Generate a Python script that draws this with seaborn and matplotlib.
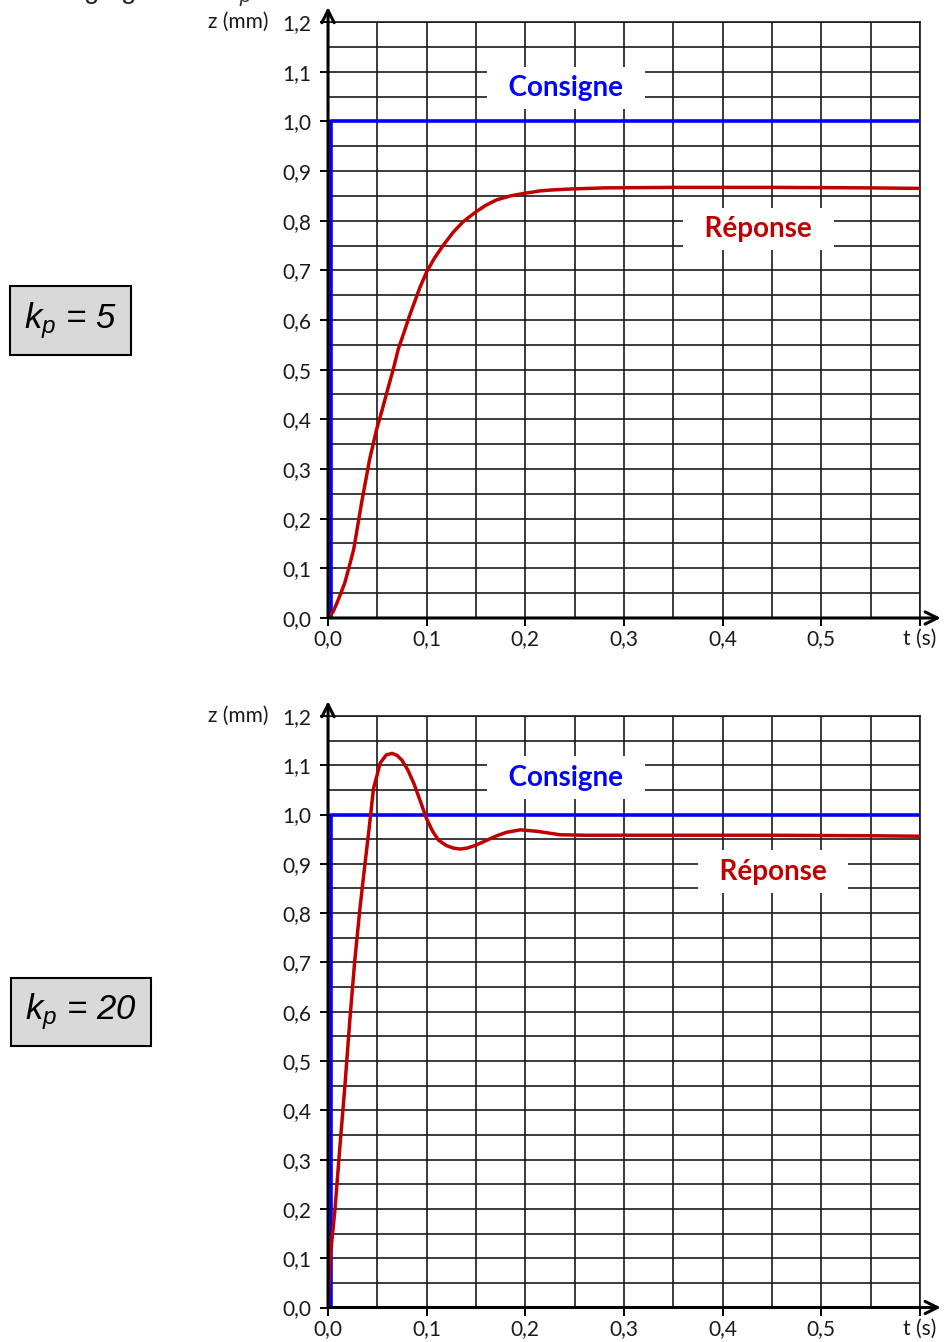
import numpy as np
import pandas as pd
import seaborn as sns
import matplotlib.pyplot as plt
import matplotlib.transforms as mtransforms

# consigne (échelon)
t_step = [0.0025, 0.0025, 0.6]
z_step = [0.0, 1.0, 1.0]

# réponse pour kp = 5
t_kp5 = [0, 0.005, 0.009, 0.013, 0.017, 0.021, 0.026, 0.030, 0.034, 0.038,
         0.042, 0.049, 0.055, 0.060, 0.066, 0.071, 0.077, 0.082, 0.088, 0.093,
         0.100, 0.108, 0.117, 0.127, 0.137, 0.150, 0.160, 0.171, 0.185, 0.199,
         0.215, 0.228, 0.249, 0.28, 0.35, 0.45, 0.55, 0.6]
z_kp5 = [0, 0.012, 0.030, 0.050, 0.071, 0.100, 0.138, 0.185, 0.232, 0.275,
         0.318, 0.378, 0.420, 0.457, 0.500, 0.540, 0.575, 0.605, 0.638, 0.665,
         0.697, 0.725, 0.751, 0.777, 0.798, 0.818, 0.831, 0.842, 0.850, 0.855,
         0.860, 0.862, 0.864, 0.866, 0.867, 0.867, 0.866, 0.865]

# réponse pour kp = 20
t_kp20 = [0, 0.002, 0.007, 0.012, 0.017, 0.022, 0.027, 0.032, 0.036, 0.042,
          0.046, 0.053, 0.059, 0.065, 0.070, 0.075, 0.081, 0.087, 0.093, 0.100,
          0.106, 0.112, 0.120, 0.127, 0.134, 0.141, 0.150, 0.161, 0.171, 0.181,
          0.195, 0.212, 0.235, 0.262, 0.35, 0.45, 0.55, 0.6]
z_kp20 = [0, 0.097, 0.198, 0.326, 0.447, 0.581, 0.702, 0.803, 0.875, 0.978,
          1.052, 1.105, 1.121, 1.124, 1.120, 1.110, 1.090, 1.063, 1.030, 0.991,
          0.966, 0.948, 0.937, 0.932, 0.930, 0.932, 0.938, 0.948, 0.957, 0.964,
          0.969, 0.966, 0.959, 0.958, 0.958, 0.958, 0.957, 0.956]

x_ticks = [0.0, 0.1, 0.2, 0.3, 0.4, 0.5, 0.6]
x_labels = ['0,0', '0,1', '0,2', '0,3', '0,4', '0,5', 't (s)']
y_ticks = [0.0, 0.1, 0.2, 0.3, 0.4, 0.5, 0.6, 0.7, 0.8, 0.9, 1.0, 1.1, 1.2]
y_labels = ['0,0', '0,1', '0,2', '0,3', '0,4', '0,5', '0,6', '0,7', '0,8',
            '0,9', '1,0', '1,1', '1,2']

sns.set_style('white')
plt.rcParams['font.family'] = ['Lato', 'DejaVu Sans']
plt.rcParams['mathtext.fontset'] = 'custom'
plt.rcParams['mathtext.it'] = 'Liberation Sans:italic'
plt.rcParams['mathtext.rm'] = 'Liberation Sans'

BLUE = '#0000ff'
RED = '#c00000'

fig = plt.figure(figsize=(9.44, 13.42), dpi=100)
ax_top = fig.add_axes([0.3475, 0.5395, 0.6271, 0.4441])
ax_bot = fig.add_axes([0.3475, 0.0257, 0.6271, 0.4408])


def draw_panel(ax, t_rep, z_rep, cons_pos, rep_pos):
    step = pd.DataFrame({'t': t_step, 'z': z_step})
    rep = pd.DataFrame({'t': t_rep, 'z': z_rep})
    sns.lineplot(data=step, x='t', y='z', ax=ax, color=BLUE, lw=2.6,
                 sort=False, estimator=None, zorder=4)
    sns.lineplot(data=rep, x='t', y='z', ax=ax, color=RED, lw=2.5,
                 sort=False, estimator=None, zorder=5)

    ax.set_xlim(0, 0.6)
    ax.set_ylim(0, 1.2)
    ax.set_xticks(x_ticks)
    ax.set_xticklabels(x_labels)
    ax.set_yticks(y_ticks)
    ax.set_yticklabels(y_labels)
    ax.set_xticks(np.arange(0.05, 0.6, 0.1), minor=True)
    ax.set_yticks(np.arange(0.05, 1.2, 0.1), minor=True)
    ax.grid(True, which='both', color='#1a1a1a', lw=1.2, zorder=1)
    ax.set_axisbelow(True)
    ax.tick_params(axis='both', which='major', length=6, width=1.4,
                   color='black', labelsize=15, labelcolor='#1a1a1a',
                   direction='out', left=True, bottom=True)
    ax.tick_params(axis='x', which='major', pad=2)
    ax.tick_params(axis='y', which='major', pad=6)
    ax.tick_params(which='minor', length=0)
    ax.set_xlabel('')
    ax.set_ylabel('')

    for s in ['top', 'right']:
        ax.spines[s].set_color('#1a1a1a')
        ax.spines[s].set_linewidth(1.2)
    for s in ['left', 'bottom']:
        ax.spines[s].set_visible(False)

    arrow = dict(arrowstyle='->', lw=2.2, color='black', mutation_scale=22,
                 shrinkA=0, shrinkB=0)
    ax.annotate('', xy=(0, 1.025), xytext=(0, 0), xycoords='axes fraction',
                arrowprops=arrow, annotation_clip=False, zorder=6)
    ax.annotate('', xy=(1.035, 0), xytext=(0, 0), xycoords='axes fraction',
                arrowprops=arrow, annotation_clip=False, zorder=6)

    trans = mtransforms.blended_transform_factory(ax.transAxes, ax.transData)
    ax.text(-0.101, 1.2, 'z (mm)', transform=trans, ha='right', va='center',
            fontsize=15, color='#1a1a1a')

    box = dict(boxstyle='square,pad=0.3', fc='white', ec='none')
    ax.text(cons_pos[0], cons_pos[1], '  Consigne  ', color=BLUE,
            fontsize=20, fontweight='bold', ha='center', va='center',
            bbox=box, zorder=3)
    ax.text(rep_pos[0], rep_pos[1], '  Réponse  ', color=RED,
            fontsize=20, fontweight='bold', ha='center', va='center',
            bbox=box, zorder=3)


draw_panel(ax_top, t_kp5, z_kp5, (0.241, 1.067), (0.436, 0.783))
draw_panel(ax_bot, t_kp20, z_kp20, (0.241, 1.075), (0.451, 0.884))

kp_box = dict(boxstyle='square,pad=0.4', fc='#d9d9d9', ec='black', lw=1.5)
kp_font = dict(fontsize=25, family=['Liberation Sans', 'DejaVu Sans'],
               style='italic', color='black', ha='center', va='center')
fig.text(70.5 / 944, 1 - 320.5 / 1342, r'$k_p$ = 5', bbox=kp_box, **kp_font)
fig.text(81 / 944, 1 - 1012 / 1342, r'$k_p$ = 20', bbox=kp_box, **kp_font)

# titre coupé en haut de la page
fig.text(48 / 944, 1.001, r'Réglage avec $k_p$', fontsize=20,
         family=['Liberation Sans', 'DejaVu Sans'], va='baseline')

fig.savefig('out.png', dpi=100)
